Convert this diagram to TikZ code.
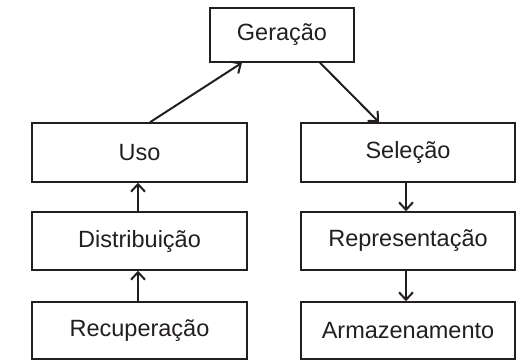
\documentclass[tikz,border=0pt]{standalone}
\usepackage{fontspec}
\setmainfont{Liberation Sans}
\usetikzlibrary{arrows.meta}
\definecolor{ink}{HTML}{231F20}
\begin{document}
\begin{tikzpicture}[x=1pt,y=1pt,
  box/.style={draw=ink,line width=1.5pt,fill=white,inner sep=0pt,font=\fontsize{23.5}{27}\selectfont,text=ink},
  arr/.style={draw=ink,line width=2pt,-{Straight Barb[length=7.5pt,width=14pt,line width=2pt]}}]
\useasboundingbox (0,0) rectangle (531,361);
\node[box,minimum width=144pt,minimum height=54pt] (ger) at (282,326) {Geração};
\node[box,minimum width=215pt,minimum height=59pt] (uso) at (139.5,208.5) {Uso};
\node[box,minimum width=214pt,minimum height=59pt] (sel) at (408,208.5) {Seleção};
\node[box,minimum width=215pt,minimum height=58pt] (dis) at (139.5,120) {Distribuição};
\node[box,minimum width=214pt,minimum height=58pt] (rep) at (408,120) {Representação};
\node[box,minimum width=215pt,minimum height=57pt] (rec) at (139.5,30.5) {Recuperação};
\node[box,minimum width=214pt,minimum height=57pt] (arm) at (408,30.5) {Armazenamento};
\draw[arr] ([xshift=10.5pt]uso.north) -- ([xshift=-40pt]ger.south);
\draw[arr] ([xshift=38pt]ger.south) -- ([xshift=-29pt]sel.north);
\draw[arr] ([xshift=-1.5pt]dis.north) -- ([xshift=-1.5pt]uso.south);
\draw[arr] ([xshift=-1.5pt]rec.north) -- ([xshift=-1.5pt]dis.south);
\draw[arr] ([xshift=-2pt]sel.south) -- ([xshift=-2pt]rep.north);
\draw[arr] ([xshift=-2pt]rep.south) -- ([xshift=-2pt]arm.north);
\end{tikzpicture}
\end{document}
